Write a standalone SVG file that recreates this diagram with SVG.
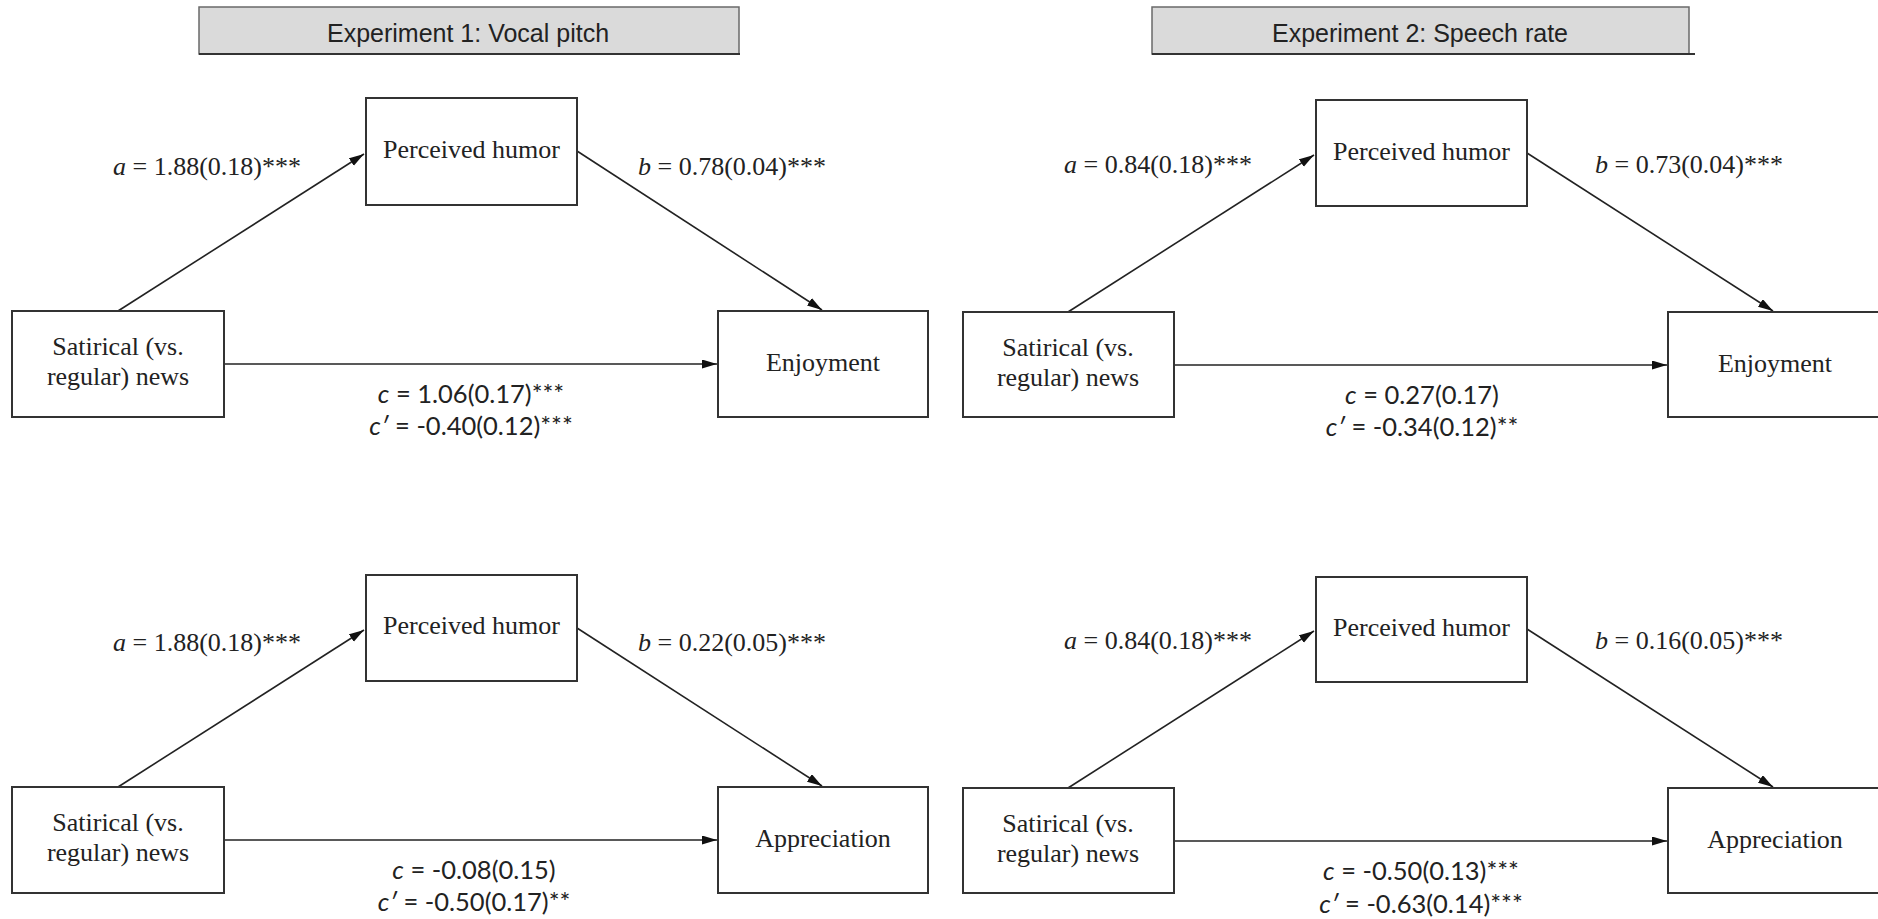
<svg xmlns="http://www.w3.org/2000/svg" width="1878" height="919" viewBox="0 0 1878 919">
<style>
.bg{fill:#ffffff}
.hdr{fill:#dadada;stroke:#6a6a6a;stroke-width:1.5}
.hline{stroke:#333;stroke-width:2}
.htxt{font-family:"Liberation Sans",Arial,sans-serif;font-size:25px;fill:#222;text-anchor:middle}
.box{fill:#ffffff;stroke:#333;stroke-width:2}
.ntxt{font-family:"Liberation Serif","Times New Roman",serif;font-size:26px;fill:#222;text-anchor:middle}
.lbl{font-family:"Liberation Serif","Times New Roman",serif;font-size:26px;fill:#222}
.clbl{font-family:Lato,"Open Sans",sans-serif;font-size:25.5px;fill:#222;text-anchor:middle}
.it{font-style:italic}
.edge{stroke:#222;stroke-width:1.6;fill:none;marker-end:url(#arr)}
</style>
<defs>
<marker id="arr" markerUnits="userSpaceOnUse" markerWidth="16" markerHeight="10" refX="15" refY="4.5" orient="auto">
<path d="M0,0 L15,4.5 L0,9 z" fill="#111"/>
</marker>
</defs>
<rect class="bg" x="0" y="0" width="1878" height="919"/>

<g id="header1">
<rect class="hdr" x="199" y="7" width="540" height="47"/>
<line class="hline" x1="199" y1="54" x2="740" y2="54"/>
<text class="htxt" x="468" y="42">Experiment 1: Vocal pitch</text>
</g>
<g id="header2">
<rect class="hdr" x="1152" y="7" width="537" height="47"/>
<line class="hline" x1="1152" y1="54" x2="1695" y2="54"/>
<text class="htxt" x="1420" y="42">Experiment 2: Speech rate</text>
</g>

<g id="connectors">
<path class="edge" d="M118,311 L364,154"/>
<path class="edge" d="M577,151 L822,310"/>
<path class="edge" d="M224,364 L717,364"/>
<path class="edge" d="M1068,312 L1314,155"/>
<path class="edge" d="M1527,153 L1773,311"/>
<path class="edge" d="M1174,365 L1667,365"/>
<path class="edge" d="M118,787 L364,630"/>
<path class="edge" d="M577,628 L822,786"/>
<path class="edge" d="M224,840 L717,840"/>
<path class="edge" d="M1068,788 L1314,631"/>
<path class="edge" d="M1527,629 L1773,787"/>
<path class="edge" d="M1174,841 L1667,841"/>
</g>

<g id="tl-humor"><rect class="box" x="366" y="98" width="211" height="107"/><text class="ntxt" x="471.5" y="158">Perceived humor</text></g>
<g id="tl-satire"><rect class="box" x="12" y="311" width="212" height="106"/><text class="ntxt" x="118" y="355">Satirical (vs.</text><text class="ntxt" x="118" y="385">regular) news</text></g>
<g id="tl-enjoy"><rect class="box" x="718" y="311" width="210" height="106"/><text class="ntxt" x="823" y="371">Enjoyment</text></g>

<g id="tr-humor"><rect class="box" x="1316" y="100" width="211" height="106"/><text class="ntxt" x="1421.5" y="160">Perceived humor</text></g>
<g id="tr-satire"><rect class="box" x="963" y="312" width="211" height="105"/><text class="ntxt" x="1068" y="356">Satirical (vs.</text><text class="ntxt" x="1068" y="386">regular) news</text></g>
<g id="tr-enjoy"><rect class="box" x="1668" y="312" width="212" height="105"/><text class="ntxt" x="1775" y="372">Enjoyment</text></g>

<g id="bl-humor"><rect class="box" x="366" y="575" width="211" height="106"/><text class="ntxt" x="471.5" y="634">Perceived humor</text></g>
<g id="bl-satire"><rect class="box" x="12" y="787" width="212" height="106"/><text class="ntxt" x="118" y="831">Satirical (vs.</text><text class="ntxt" x="118" y="861">regular) news</text></g>
<g id="bl-appr"><rect class="box" x="718" y="787" width="210" height="106"/><text class="ntxt" x="823" y="847">Appreciation</text></g>

<g id="br-humor"><rect class="box" x="1316" y="577" width="211" height="105"/><text class="ntxt" x="1421.5" y="636">Perceived humor</text></g>
<g id="br-satire"><rect class="box" x="963" y="788" width="211" height="105"/><text class="ntxt" x="1068" y="832">Satirical (vs.</text><text class="ntxt" x="1068" y="862">regular) news</text></g>
<g id="br-appr"><rect class="box" x="1668" y="788" width="212" height="105"/><text class="ntxt" x="1775" y="848">Appreciation</text></g>

<g id="labels">
<text class="lbl" x="113" y="175"><tspan class="it">a</tspan> = 1.88(0.18)***</text>
<text class="lbl" x="638" y="175"><tspan class="it">b</tspan> = 0.78(0.04)***</text>
<text class="clbl" x="471" y="403"><tspan class="it">c</tspan> = 1.06(0.17)***</text>
<text class="clbl" x="471" y="435"><tspan class="it">c′</tspan> = -0.40(0.12)***</text>

<text class="lbl" x="1064" y="173"><tspan class="it">a</tspan> = 0.84(0.18)***</text>
<text class="lbl" x="1595" y="173"><tspan class="it">b</tspan> = 0.73(0.04)***</text>
<text class="clbl" x="1422" y="404"><tspan class="it">c</tspan> = 0.27(0.17)</text>
<text class="clbl" x="1422" y="436"><tspan class="it">c′</tspan> = -0.34(0.12)**</text>

<text class="lbl" x="113" y="651"><tspan class="it">a</tspan> = 1.88(0.18)***</text>
<text class="lbl" x="638" y="651"><tspan class="it">b</tspan> = 0.22(0.05)***</text>
<text class="clbl" x="474" y="879"><tspan class="it">c</tspan> = -0.08(0.15)</text>
<text class="clbl" x="474" y="911"><tspan class="it">c′</tspan> = -0.50(0.17)**</text>

<text class="lbl" x="1064" y="649"><tspan class="it">a</tspan> = 0.84(0.18)***</text>
<text class="lbl" x="1595" y="649"><tspan class="it">b</tspan> = 0.16(0.05)***</text>
<text class="clbl" x="1421" y="880"><tspan class="it">c</tspan> = -0.50(0.13)***</text>
<text class="clbl" x="1421" y="913"><tspan class="it">c′</tspan> = -0.63(0.14)***</text>
</g>
</svg>
